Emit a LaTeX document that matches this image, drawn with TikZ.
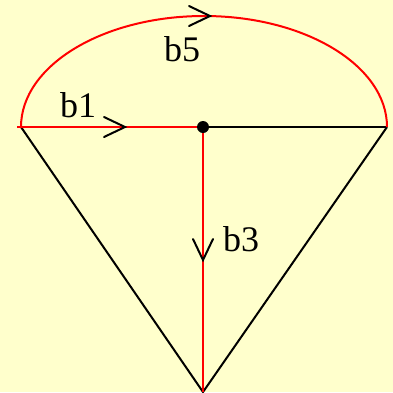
\documentclass[tikz,border=0pt]{standalone}
\usepackage{fontspec}
\setmainfont{Liberation Serif}
\definecolor{bgyellow}{RGB}{255,255,204}
\begin{document}
\begin{tikzpicture}[x=1pt,y=-1pt,
  redline/.style={draw=red,line width=2pt},
  blackline/.style={draw=black,line width=2pt},
  chev/.style={draw=black,line width=2pt,line cap=round},
  lbl/.style={font=\fontsize{36}{40}\selectfont,inner sep=0pt}]
\fill[bgyellow] (0,0) rectangle (393,392);
\useasboundingbox (0,0) rectangle (393,392);
\coordinate (L) at (21,127);
\coordinate (Ls) at (17,127);
\coordinate (C) at (203,127);
\coordinate (R) at (387,127);
\coordinate (B) at (203,392);
\coordinate (A5) at (210,16);
\coordinate (A1) at (125,127);
\coordinate (A3) at (203,260);
% black edges
\draw[blackline] (C) -- (R);
\draw[blackline] (L) -- (B) -- (R);
% red edges
\draw[redline] (Ls) -- (C);
\draw[redline] (C) -- (B);
\draw[redline] (L) arc[start angle=180,end angle=0,x radius=183,y radius=-111];
% arrowheads
\draw[chev] ([shift={(-21,-10)}]A5) -- (A5) -- ([shift={(-21,10)}]A5);
\draw[chev] ([shift={(-21,-10)}]A1) -- (A1) -- ([shift={(-21,10)}]A1);
\draw[chev] ([shift={(-10,-21)}]A3) -- (A3) -- ([shift={(10,-21)}]A3);
% dot
\fill[black] (C) circle (6);
% labels
\node[lbl] (b5) at (182,49) {b5};
\node[lbl] (b1) at (78,105) {b1};
\node[lbl] (b3) at (241,239) {b3};
\end{tikzpicture}
\end{document}
